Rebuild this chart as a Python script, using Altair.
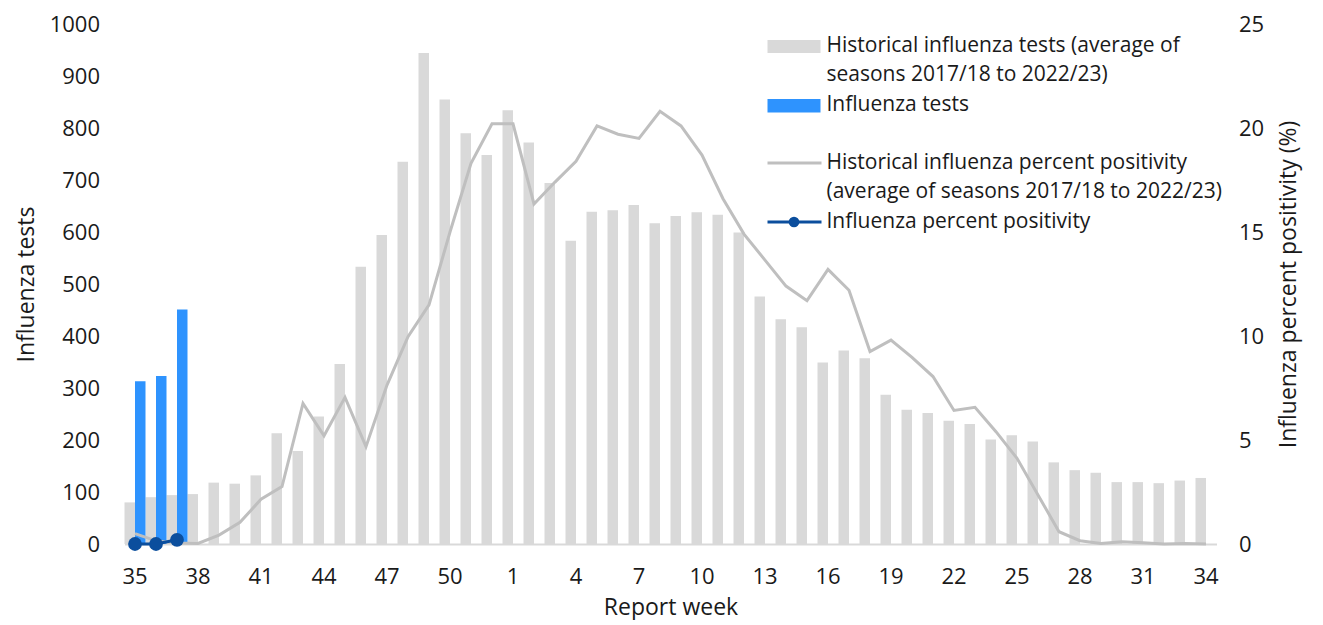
import altair as alt
import pandas as pd

weeks = ["35", "36", "37", "38", "39", "40", "41", "42", "43", "44", "45", "46",
         "47", "48", "49", "50", "51", "52", "1", "2", "3", "4", "5", "6", "7",
         "8", "9", "10", "11", "12", "13", "14", "15", "16", "17", "18", "19",
         "20", "21", "22", "23", "24", "25", "26", "27", "28", "29", "30", "31",
         "32", "33", "34"]

label_weeks = ["35", "38", "41", "44", "47", "50", "1", "4", "7", "10", "13",
               "16", "19", "22", "25", "28", "31", "34"]

hist_tests = [80, 90, 94, 96, 118, 116, 132, 213, 179, 245, 346, 533,
              594, 735, 944, 855, 790, 748, 834, 772, 694, 583, 639, 642, 652,
              617, 631, 638, 633, 599, 476, 432, 417, 349, 372, 357, 287,
              258, 252, 237, 231, 201, 209, 197, 157, 142, 137, 119, 119,
              117, 122, 127]

hist_pct = [0.5, 0.15, 0.05, 0.03, 0.43, 1.04, 2.15, 2.76, 6.76, 5.2, 7.05, 4.68,
            7.64, 9.97, 11.5, 15.0, 18.3, 20.2, 20.2, 16.35, 17.4, 18.4, 20.1, 19.7, 19.5,
            20.8, 20.1, 18.7, 16.6, 14.9, 13.65, 12.4, 11.7, 13.2, 12.2, 9.25, 9.8,
            8.97, 8.05, 6.42, 6.57, 5.4, 4.12, 2.36, 0.59, 0.16, 0.03, 0.11, 0.06,
            0.0, 0.03, 0.0]

cur_weeks = ["35", "36", "37"]
cur_tests = [313, 323, 451]
cur_pct = [0.0, 0.0, 0.2]

FONT = "Open Sans"
GRAY_BAR = "#d9d9d9"
BLUE_BAR = "#2e93fe"
GRAY_LINE = "#bfbfbf"
DARK_BLUE = "#0b4e9d"
TXT = "#1a1a1a"
LBL = 22
TTL = 23
LEG = 21

bar_df = pd.DataFrame({
    "week": weeks + cur_weeks,
    "series": ["hist"] * len(weeks) + ["cur"] * len(cur_weeks),
    "tests": hist_tests + cur_tests,
})
hist_line_df = pd.DataFrame({"week": weeks, "pct": hist_pct, "idx": list(range(len(weeks)))})
cur_line_df = pd.DataFrame({"week": cur_weeks, "pct": cur_pct, "idx": list(range(len(cur_weeks)))})

X = alt.X(
    "week:N",
    scale=alt.Scale(domain=weeks, paddingInner=0, paddingOuter=0),
    axis=alt.Axis(
        values=label_weeks, title="Report week", labelAngle=0, ticks=False,
        domainColor=GRAY_BAR, domainWidth=2, labelPadding=22, titlePadding=9,
        labelFontSize=LBL, titleFontSize=TTL, labelColor=TXT, titleColor=TXT,
        titleFontWeight="normal", labelFont=FONT, titleFont=FONT,
    ),
)

bars = alt.Chart(bar_df).mark_bar().encode(
    x=X,
    xOffset=alt.XOffset("series:N", scale=alt.Scale(domain=["hist", "cur"], paddingInner=0, paddingOuter=0)),
    y=alt.Y("tests:Q", scale=alt.Scale(domain=[0, 1000], nice=False),
            axis=alt.Axis(values=list(range(0, 1001, 100)), format="d", title="Influenza tests",
                          ticks=False, domain=False, grid=False, labelPadding=25,
                          titlePadding=11, labelFontSize=LBL, titleFontSize=TTL,
                          labelColor=TXT, titleColor=TXT, titleFontWeight="normal",
                          labelFont=FONT, titleFont=FONT)),
    color=alt.Color("series:N", scale=alt.Scale(domain=["hist", "cur"], range=[GRAY_BAR, BLUE_BAR]), legend=None),
)

right_axis = alt.Axis(values=[0, 5, 10, 15, 20, 25], title="Influenza percent positivity (%)",
                      orient="right", ticks=False, domain=False, grid=False, labelPadding=22,
                      titlePadding=14, titleAngle=270, titleBaseline="top",
                      labelFontSize=LBL, titleFontSize=TTL,
                      labelColor=TXT, titleColor=TXT, titleFontWeight="normal",
                      labelFont=FONT, titleFont=FONT)
Y2 = alt.Y("pct:Q", scale=alt.Scale(domain=[0, 25], nice=False), axis=right_axis)

hist_line = alt.Chart(hist_line_df).mark_line(color=GRAY_LINE, strokeWidth=3).encode(
    x=X, y=Y2, order=alt.Order("idx:Q"))
cur_line = alt.Chart(cur_line_df).mark_line(
    color=DARK_BLUE, strokeWidth=3,
    point=alt.OverlayMarkDef(filled=True, color=DARK_BLUE, size=190, opacity=1),
).encode(x=X, y=Y2, order=alt.Order("idx:Q"))

lines = alt.layer(hist_line, cur_line)

dummy = pd.DataFrame({"a": [0]})

def legend_text(txt, y):
    return alt.Chart(dummy).mark_text(
        text=txt, align="left", baseline="middle", font=FONT, fontSize=LEG, color=TXT
    ).encode(x=alt.value(702), y=alt.value(y))

leg = [
    alt.Chart(dummy).mark_rect(color=GRAY_BAR).encode(
        x=alt.value(643), x2=alt.value(696), y=alt.value(16), y2=alt.value(29)),
    alt.Chart(dummy).mark_rect(color=BLUE_BAR).encode(
        x=alt.value(643), x2=alt.value(696), y=alt.value(75), y2=alt.value(88.5)),
    alt.Chart(dummy).mark_rule(color=GRAY_LINE, strokeWidth=3).encode(
        x=alt.value(643), x2=alt.value(697), y=alt.value(139)),
    alt.Chart(dummy).mark_rule(color=DARK_BLUE, strokeWidth=3).encode(
        x=alt.value(643), x2=alt.value(697), y=alt.value(198)),
    alt.Chart(dummy).mark_point(filled=True, color=DARK_BLUE, size=115, opacity=1).encode(
        x=alt.value(669.5), y=alt.value(198)),
    legend_text("Historical influenza tests (average of", 22),
    legend_text("seasons 2017/18 to 2022/23)", 51),
    legend_text("Influenza tests", 81),
    legend_text("Historical influenza percent positivity", 139),
    legend_text("(average of seasons 2017/18 to 2022/23)", 168),
    legend_text("Influenza percent positivity", 198),
]

chart = alt.layer(bars, lines, *leg).resolve_scale(y="independent").properties(
    width=1092, height=520,
    padding={"left": 116.5, "top": 16, "right": 98, "bottom": 76},
    autosize=alt.AutoSizeParams(type="none"),
).configure(font=FONT).configure_view(stroke=None)

chart.save("out.html", embed_options={"renderer": "svg", "actions": False})
